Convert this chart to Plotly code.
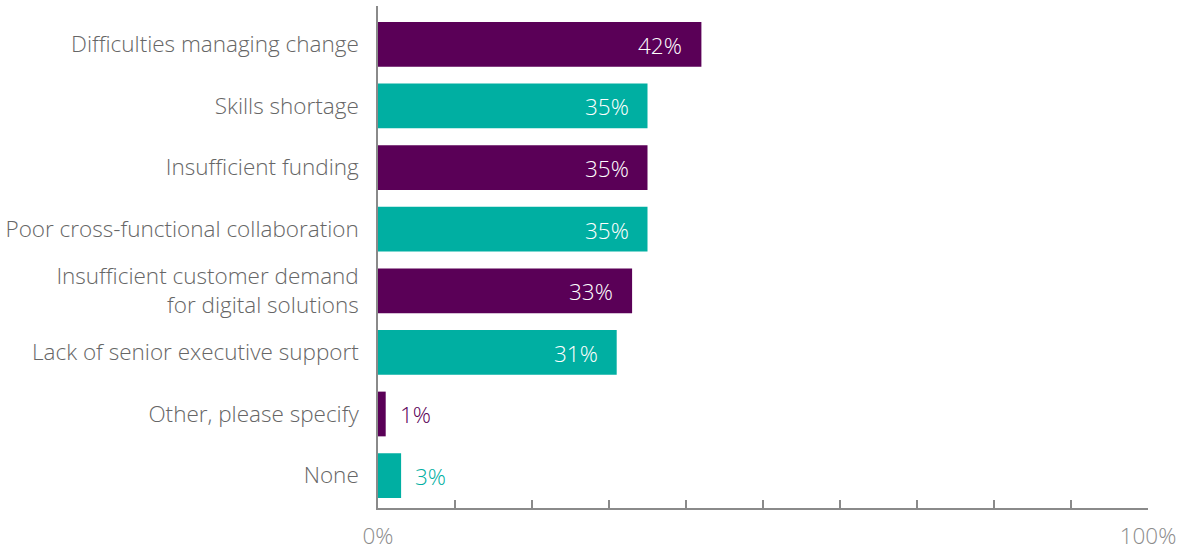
import plotly.graph_objects as go

# Survey responses: barriers to digital transformation
categories = [
    "Difficulties managing change",
    "Skills shortage",
    "Insufficient funding",
    "Poor cross-functional collaboration",
    "Insufficient customer demand<br>for digital solutions",
    "Lack of senior executive support",
    "Other, please specify",
    "None",
]
values = [42, 35, 35, 35, 33, 31, 1, 3]

PURPLE = "#5a0057"
TEAL = "#00afa2"
bar_colors = [PURPLE if i % 2 == 0 else TEAL for i in range(len(values))]

x_tickvals = list(range(0, 101, 10))
x_ticktext = ["0%"] + [""] * 9 + ["100%"]

FONT = "Open Sans"
FSIZE = 22.5
WEIGHT = 300

fig = go.Figure(
    go.Bar(
        x=values,
        y=list(range(len(categories))),
        orientation="h",
        marker=dict(color=bar_colors, line=dict(width=0)),
        width=0.726,
        hoverinfo="skip",
    )
)

# value labels: white inside the end of long bars, bar-coloured beside short ones
for i, (v, c) in enumerate(zip(values, bar_colors)):
    inside = v >= 10
    fig.add_annotation(
        x=v,
        y=i,
        text=f"{v}%",
        showarrow=False,
        xanchor="right" if inside else "left",
        xshift=-17 if inside else 12,
        yshift=-1,
        font=dict(family=FONT, size=FSIZE, weight=WEIGHT,
                  color="white" if inside else c),
    )

fig.update_layout(
    width=1187,
    height=551,
    margin=dict(l=378, r=39, t=6, b=43),
    paper_bgcolor="white",
    plot_bgcolor="white",
    showlegend=False,
    font=dict(family=FONT, size=FSIZE, weight=WEIGHT, color="#666666"),
)

fig.update_xaxes(
    range=[0, 100],
    tickvals=x_tickvals,
    ticktext=x_ticktext,
    ticks="inside",
    ticklen=8,
    tickwidth=1.5,
    tickcolor="#8a8a8a",
    showline=True,
    linecolor="#8a8a8a",
    linewidth=1.5,
    showgrid=False,
    zeroline=False,
    automargin=False,
    ticklabelstandoff=7,
    tickfont=dict(family=FONT, size=FSIZE, weight=WEIGHT, color="#8c8c8c"),
    fixedrange=True,
)

fig.update_yaxes(
    range=[7.526, -0.622],
    tickvals=list(range(len(categories))),
    ticktext=categories,
    ticks="",
    showline=True,
    linecolor="#8a8a8a",
    linewidth=1.5,
    showgrid=False,
    zeroline=False,
    automargin=False,
    ticklabelstandoff=13,
    tickfont=dict(family=FONT, size=FSIZE, weight=WEIGHT, color="#666666"),
    fixedrange=True,
)

fig.write_html("out.html")
